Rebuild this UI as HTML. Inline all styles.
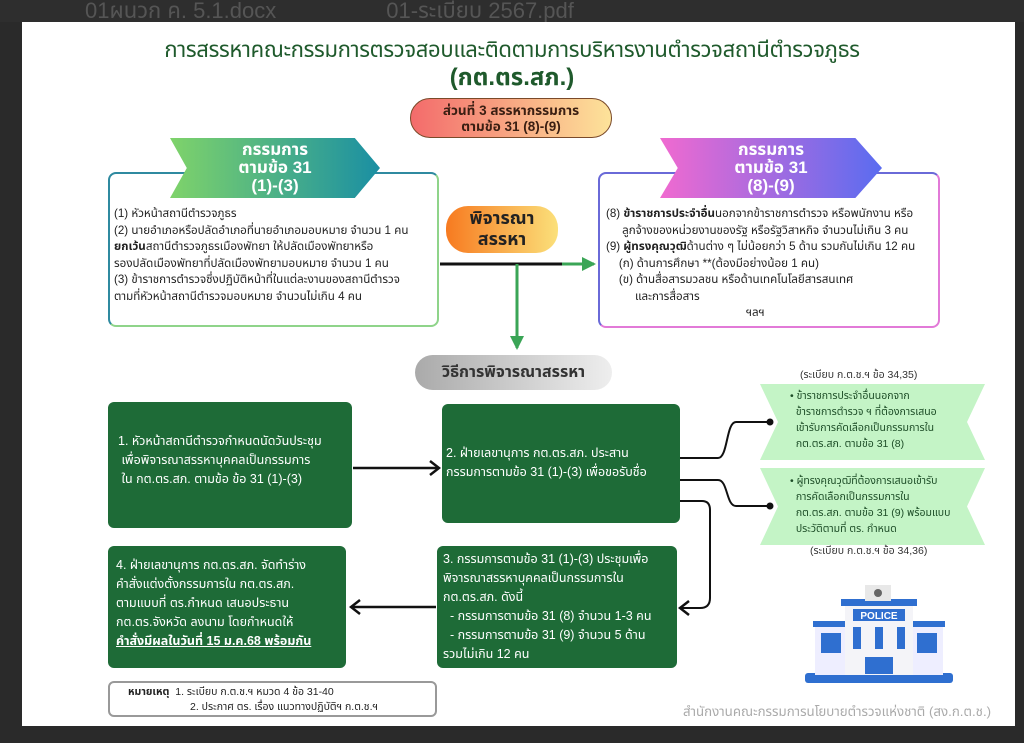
<!DOCTYPE html>
<html><head><meta charset="utf-8"><style>
*{margin:0;padding:0;box-sizing:border-box}
body{width:1024px;height:743px;background:#2a2a2a;position:relative;overflow:hidden;font-family:"Liberation Sans","Noto Sans CJK SC","Noto Sans Thai",sans-serif}
.a{position:absolute}
.page{left:22px;top:22px;width:993px;height:704px;background:#fff}
.t{color:#1f5a2c;text-align:center;width:100%}
.box{border-radius:8px;background:#fff}
.g{background:#1e6b37;color:#fff;border-radius:6px;font-size:12.5px;line-height:19px}
.small{font-size:11.6px;line-height:16.5px;color:#222;white-space:nowrap}
.rib{color:#fff;font-weight:bold;text-align:center;font-size:17px;line-height:18px}
.gr{background:#c4f4c6;clip-path:polygon(0 0,100% 0,92% 50%,100% 100%,0 100%,8% 50%);font-size:10.5px;line-height:16px;color:#1d4d27}
</style></head><body>
<div class="a" style="left:0;top:0;width:1024px;height:22px;background:#2e2e2e;color:#555;font-size:22px;line-height:22px;padding-left:85px">01ผนวก ค. 5.1.docx &nbsp;&nbsp;&nbsp;&nbsp;&nbsp;&nbsp;&nbsp;&nbsp;&nbsp;&nbsp;&nbsp;&nbsp;&nbsp;&nbsp;&nbsp;&nbsp; 01-ระเบียบ 2567.pdf</div>
<div class="a page"></div>
<div class="a t" style="top:34px;left:0;font-size:22px;letter-spacing:-0.3px">การสรรหาคณะกรรมการตรวจสอบและติดตามการบริหารงานตำรวจสถานีตำรวจภูธร</div>
<div class="a t" style="top:60px;left:0;font-size:24px;font-weight:bold">(กต.ตร.สภ.)</div>
<div class="a" style="left:410px;top:98px;width:202px;height:40px;border-radius:20px;border:1.5px solid #7a4a2a;background:linear-gradient(90deg,#f36b6b,#fde39a);text-align:center;font-weight:bold;font-size:13.5px;line-height:16px;padding-top:4px;color:#3a1e12">ส่วนที่ 3 สรรหากรรมการ<br>ตามข้อ 31 (8)-(9)</div>

<div class="a box" style="left:108px;top:172px;width:331px;height:155px;border:2.5px solid;border-color:#2f8aa0 #8fd48a #8fd48a #2f8aa0"></div>
<div class="a rib" style="left:170px;top:138px;width:210px;height:60px;background:linear-gradient(90deg,#7fd36a,#1a8fa3);clip-path:polygon(0 0,88% 0,100% 50%,88% 100%,0 100%,8% 50%);padding-top:3px">กรรมการ<br>ตามข้อ 31<br>(1)-(3)</div>
<div class="a small" style="left:114px;top:206px;width:325px">(1) หัวหน้าสถานีตำรวจภูธร<br>(2) นายอำเภอหรือปลัดอำเภอที่นายอำเภอมอบหมาย จำนวน 1 คน<br><b>ยกเว้น</b>สถานีตำรวจภูธรเมืองพัทยา ให้ปลัดเมืองพัทยาหรือ<br>รองปลัดเมืองพัทยาที่ปลัดเมืองพัทยามอบหมาย จำนวน 1 คน<br>(3) ข้าราชการตำรวจซึ่งปฏิบัติหน้าที่ในแต่ละงานของสถานีตำรวจ<br>ตามที่หัวหน้าสถานีตำรวจมอบหมาย จำนวนไม่เกิน 4 คน</div>

<div class="a box" style="left:598px;top:172px;width:342px;height:156px;border:2.5px solid;border-color:#6a6ad8 #e27ad8 #e27ad8 #6a6ad8"></div>
<div class="a rib" style="left:660px;top:138px;width:222px;height:60px;background:linear-gradient(90deg,#f06ad0,#5a6cf0);clip-path:polygon(0 0,88% 0,100% 50%,88% 100%,0 100%,8% 50%);padding-top:3px">กรรมการ<br>ตามข้อ 31<br>(8)-(9)</div>
<div class="a small" style="left:606px;top:206px;width:335px">(8) <b>ข้าราชการประจำอื่น</b>นอกจากข้าราชการตำรวจ หรือพนักงาน หรือ<br>&nbsp;&nbsp;&nbsp;&nbsp;&nbsp;ลูกจ้างของหน่วยงานของรัฐ หรือรัฐวิสาหกิจ จำนวนไม่เกิน 3 คน<br>(9) <b>ผู้ทรงคุณวุฒิ</b>ด้านต่าง ๆ ไม่น้อยกว่า 5 ด้าน รวมกันไม่เกิน 12 คน<br>&nbsp;&nbsp;&nbsp;&nbsp;(ก) ด้านการศึกษา **(ต้องมีอย่างน้อย 1 คน)<br>&nbsp;&nbsp;&nbsp;&nbsp;(ข) ด้านสื่อสารมวลชน หรือด้านเทคโนโลยีสารสนเทศ<br>&nbsp;&nbsp;&nbsp;&nbsp;&nbsp;&nbsp;&nbsp;&nbsp;&nbsp;และการสื่อสาร<br><span style="padding-left:140px">ฯลฯ</span></div>

<div class="a" style="left:446px;top:206px;width:112px;height:47px;border-radius:22px;background:linear-gradient(90deg,#f77a20,#fbe07a);text-align:center;font-weight:bold;font-size:18px;line-height:21px;padding-top:2px;color:#222">พิจารณา<br>สรรหา</div>
<div class="a" style="left:415px;top:355px;width:197px;height:35px;border-radius:18px;background:linear-gradient(90deg,#aaa,#eee);text-align:center;font-weight:bold;font-size:16px;line-height:35px;color:#333">วิธีการพิจารณาสรรหา</div>

<svg class="a" style="left:0;top:0" width="1024" height="743">
<defs><marker id="ga" markerUnits="userSpaceOnUse" markerWidth="16" markerHeight="16" refX="12" refY="8" orient="auto"><path d="M0,1 L14,8 L0,15 z" fill="#3aa556"/></marker>
<marker id="ba" markerUnits="userSpaceOnUse" markerWidth="12" markerHeight="16" refX="9" refY="8" orient="auto"><path d="M1,1 L10,8 L1,15" fill="none" stroke="#111" stroke-width="2.5"/></marker></defs>
<line x1="440" y1="264" x2="562" y2="264" stroke="#111" stroke-width="3"/>
<line x1="562" y1="264" x2="594" y2="264" stroke="#3aa556" stroke-width="3" marker-end="url(#ga)"/>
<line x1="517" y1="264" x2="517" y2="348" stroke="#3aa556" stroke-width="3" marker-end="url(#ga)"/>
<line x1="353" y1="468" x2="438" y2="468" stroke="#111" stroke-width="2.5" marker-end="url(#ba)"/>
<line x1="436" y1="607" x2="352" y2="607" stroke="#111" stroke-width="2.5" marker-end="url(#ba)"/>
<path d="M680,458 H718 C728,458 726,422 736,422 H770" fill="none" stroke="#111" stroke-width="2"/>
<path d="M680,480 H718 C728,480 726,506 736,506 H770" fill="none" stroke="#111" stroke-width="2"/>
<circle cx="770" cy="422" r="3.5" fill="#111"/><circle cx="770" cy="506" r="3.5" fill="#111"/>
<path d="M680,501 H702 Q710,501 710,510 V598 Q710,608 700,608 H681" fill="none" stroke="#111" stroke-width="2" marker-end="url(#ba)"/>
</svg>

<div class="a g" style="left:108px;top:402px;width:244px;height:126px;padding:30px 0 0 10px">1. หัวหน้าสถานีตำรวจกำหนดนัดวันประชุม<br>&nbsp;เพื่อพิจารณาสรรหาบุคคลเป็นกรรมการ<br>&nbsp;ใน กต.ตร.สภ. ตามข้อ ข้อ 31 (1)-(3)</div>
<div class="a g" style="left:442px;top:404px;width:238px;height:119px;padding:40px 0 0 4px">2. ฝ่ายเลขานุการ กต.ตร.สภ. ประสาน<br>กรรมการตามข้อ 31 (1)-(3) เพื่อขอรับชื่อ</div>
<div class="a g" style="left:437px;top:546px;width:240px;height:122px;padding:4px 0 0 6px">3. กรรมการตามข้อ 31 (1)-(3) ประชุมเพื่อ<br>พิจารณาสรรหาบุคคลเป็นกรรมการใน<br>กต.ตร.สภ. ดังนี้<br>&nbsp;&nbsp;- กรรมการตามข้อ 31 (8) จำนวน 1-3 คน<br>&nbsp;&nbsp;- กรรมการตามข้อ 31 (9) จำนวน 5 ด้าน<br>รวมไม่เกิน 12 คน</div>
<div class="a g" style="left:108px;top:546px;width:238px;height:122px;padding:10px 0 0 8px">4. ฝ่ายเลขานุการ กต.ตร.สภ. จัดทำร่าง<br>คำสั่งแต่งตั้งกรรมการใน กต.ตร.สภ.<br>ตามแบบที่ ตร.กำหนด เสนอประธาน<br>กต.ตร.จังหวัด ลงนาม โดยกำหนดให้<br><b><u>คำสั่งมีผลในวันที่ 15 ม.ค.68 พร้อมกัน</u></b></div>
<div class="a" style="left:108px;top:681px;width:329px;height:36px;border:2px solid #999;border-radius:6px;font-size:10.5px;line-height:15px;padding:2px 0 0 18px;color:#222"><b>หมายเหตุ</b>&nbsp; 1. ระเบียบ ก.ต.ช.ฯ หมวด 4 ข้อ 31-40<br><span style="padding-left:62px">2. ประกาศ ตร. เรื่อง แนวทางปฏิบัติฯ ก.ต.ช.ฯ</span></div>

<div class="a" style="left:800px;top:367px;font-size:10.5px;color:#333">(ระเบียบ ก.ต.ช.ฯ ข้อ 34,35)</div>
<div class="a gr" style="left:760px;top:384px;width:225px;height:76px;padding:4px 0 0 30px">• ข้าราชการประจำอื่นนอกจาก<br>&nbsp;&nbsp;ข้าราชการตำรวจ ฯ ที่ต้องการเสนอ<br>&nbsp;&nbsp;เข้ารับการคัดเลือกเป็นกรรมการใน<br>&nbsp;&nbsp;กต.ตร.สภ. ตามข้อ 31 (8)</div>
<div class="a gr" style="left:760px;top:468px;width:225px;height:77px;padding:5px 0 0 30px">• ผู้ทรงคุณวุฒิที่ต้องการเสนอเข้ารับ<br>&nbsp;&nbsp;การคัดเลือกเป็นกรรมการใน<br>&nbsp;&nbsp;กต.ตร.สภ. ตามข้อ 31 (9) พร้อมแบบ<br>&nbsp;&nbsp;ประวัติตามที่ ตร. กำหนด</div>
<div class="a" style="left:810px;top:543px;font-size:10.5px;color:#333">(ระเบียบ ก.ต.ช.ฯ ข้อ 34,36)</div>

<svg class="a" style="left:805px;top:585px" width="150" height="105">
<rect x="0" y="88" width="148" height="10" rx="3" fill="#2f6fd0"/>
<rect x="10" y="40" width="32" height="50" fill="#eef"/><rect x="8" y="36" width="36" height="6" fill="#2f6fd0"/>
<rect x="106" y="40" width="32" height="50" fill="#eef"/><rect x="104" y="36" width="36" height="6" fill="#2f6fd0"/>
<rect x="40" y="18" width="68" height="72" fill="#f4f4f8"/><rect x="36" y="14" width="76" height="7" fill="#2f6fd0"/>
<rect x="60" y="0" width="26" height="16" fill="#e8e8e8"/><circle cx="73" cy="8" r="4" fill="#666"/>
<rect x="48" y="24" width="52" height="12" fill="#2f6fd0"/><text x="74" y="34" font-size="10" font-weight="bold" fill="#fff" text-anchor="middle" font-family="Liberation Sans">POLICE</text>
<rect x="48" y="42" width="8" height="22" fill="#2f6fd0"/><rect x="70" y="42" width="8" height="22" fill="#2f6fd0"/><rect x="92" y="42" width="8" height="22" fill="#2f6fd0"/>
<rect x="16" y="48" width="20" height="20" fill="#2f6fd0"/><rect x="112" y="48" width="20" height="20" fill="#2f6fd0"/>
<rect x="60" y="72" width="28" height="17" fill="#2f6fd0"/>
</svg>
<div class="a" style="left:683px;top:702px;font-size:13.3px;color:#aaa;white-space:nowrap">สำนักงานคณะกรรมการนโยบายตำรวจแห่งชาติ (สง.ก.ต.ช.)</div>
</body></html>
